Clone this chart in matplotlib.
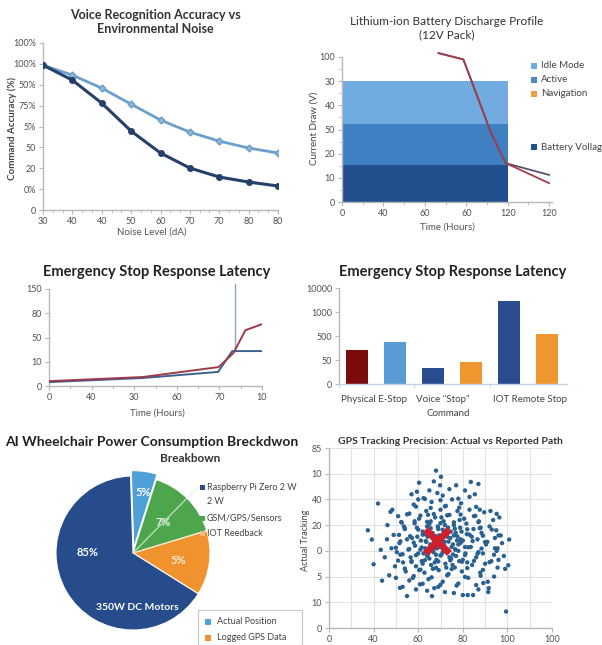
import matplotlib
matplotlib.use("Agg")
import matplotlib.pyplot as plt
from matplotlib.patches import Rectangle
from matplotlib.lines import Line2D

plt.rcParams['font.family'] = ['Lato', 'DejaVu Sans']

W, H = 602, 645

# ---------------- data ----------------
# Panel 1: voice recognition
noise_labels = ["30", "40", "40", "50", "60", "70", "70", "80", "80"]
acc_labels = ["0", "0%", "20", "50", "5%", "75%", "50%", "100%", "100%"]
acc_dark = [6.94, 6.22, 5.12, 3.78, 2.73, 2.01, 1.58, 1.34, 1.15]
acc_light = [6.94, 6.46, 5.84, 5.07, 4.31, 3.73, 3.30, 2.97, 2.73]

# Panel 2: battery discharge
batt_xlabels = ["0", "40", "60", "60", "120", "120"]
batt_ylabels = ["0", "10", "20", "50", "40", "30", "100"]
band_bottoms = [0.0, 1.53, 3.22]
band_tops = [1.53, 3.22, 5.0]
band_span = 4.0
discharge_x = [2.33, 2.93, 3.12, 3.60, 3.95, 5.0]
discharge_red = [6.16, 5.90, 5.04, 2.85, 1.61, 0.78]
discharge_dark = [6.16, 5.90, 5.04, 2.85, 1.61, 1.12]
batt_legend = ["Idle Mode", "Active", "Navigation", "Battery Vollag"]

# Panel 3: latency lines
lat_xlabels = ["0", "40", "30", "60", "70", "10"]
lat_ylabels = ["0", "10", "50", "80", "150"]
lat_x_red = [0, 2.2, 3.98, 4.33, 4.61, 5.0]
lat_red = [0.20, 0.37, 0.78, 1.36, 2.30, 2.55]
lat_x_blue = [0, 2.2, 3.97, 4.30, 5.0]
lat_blue = [0.16, 0.33, 0.58, 1.44, 1.44]
spike_x = [4.37, 4.37]
spike_y = [1.44, 4.2]

# Panel 4: latency bars
bar_ylabels = ["0", "50", "500", "1000", "10000"]
bar_vals = [1.42, 1.75, 0.67, 0.92, 3.46, 2.08]
bar_colors = ["#7a0c0c", "#5b9bd5", "#2a4d8f", "#f0962f", "#2a4d8f", "#f0962f"]
bar_cats = ["Physical E-Stop", "Voice \"Stop\"", "IOT Remote Stop"]

# Panel 5: pie
pie_vals = [13.6, 15.4, 5.4, 65.6]
pie_labels = ["5%", "7%", "5%", "85%"]
pie_colors = ["#f0932f", "#4ea64c", "#4f9fd8", "#264c8b"]
pie_legend = ["Raspberry Pi Zero 2 W", "2 W", "GSM/GPS/Sensors", "IOT Reedback"]
pie_box_legend = ["Actual Position", "Logged GPS Data"]

# Panel 6: GPS scatter
gps_xlabels = ["0", "40", "60", "80", "100", "100"]
gps_ylabels = ["0", "10", "5", "0", "20", "40", "10", "85"]
gps_x = [0.87, 0.96, 1.10, 1.00, 1.19, 1.16, 1.59, 1.75, 2.31, 2.40, 2.51, 2.02, 2.49, 3.18, 3.35,
         4.04, 4.02, 3.97, 3.57, 3.00, 3.11, 3.23, 2.80, 3.76, 3.82, 3.76, 3.72, 3.38, 1.38, 1.31, 1.97,
         1.45, 1.52, 1.58, 1.63, 1.66, 1.70, 1.72, 1.78, 1.80, 1.83, 1.86, 1.88, 1.90, 1.93, 1.95, 1.97,
         2.00, 2.02, 2.04, 2.06, 2.08, 2.10, 2.12, 2.14, 2.16, 2.18, 2.20, 2.21, 2.23, 2.25, 2.27, 2.29,
         2.30, 2.32, 2.34, 2.36, 2.38, 2.39, 2.41, 2.43, 2.44, 2.46, 2.48, 2.50, 2.52, 2.53, 2.55, 2.57,
         2.59, 2.61, 2.62, 2.64, 2.66, 2.68, 2.70, 2.72, 2.74, 2.76, 2.78, 2.80, 2.82, 2.84, 2.86, 2.88,
         2.90, 2.92, 2.94, 2.96, 2.98, 3.00, 3.03, 3.06, 3.09, 3.12, 3.15, 3.18, 3.21, 3.24, 3.27, 3.30,
         3.33, 3.36, 3.39, 3.42, 3.45, 3.48, 3.52, 3.56, 3.60, 3.64, 3.68, 3.72, 3.78, 3.85, 3.92,
         2.05, 2.15, 2.25, 2.35, 2.45, 2.55, 2.65, 2.75, 2.85, 2.95, 2.10, 2.20, 2.30, 2.40, 2.50, 2.60,
         2.70, 2.80, 2.90, 3.00, 1.98, 2.18, 2.28, 2.37, 2.47, 2.58, 2.67, 2.77, 2.87, 2.97, 2.12, 2.22,
         2.33, 2.42, 2.52, 2.63, 2.73, 2.83, 2.93, 3.05, 1.75, 1.85, 1.92, 2.02, 3.10, 3.20, 3.25, 3.35,
         3.40, 3.50, 1.60, 1.68, 1.55, 1.48, 1.40, 1.35, 1.30, 1.25, 1.42, 1.50, 3.55, 3.62, 3.70, 3.75,
         3.80, 3.88, 3.95, 3.58, 3.46, 3.35, 2.60, 2.45, 2.20, 1.95, 1.80, 1.65, 2.70, 2.55, 2.25, 2.00,
         1.85, 3.05, 3.15, 2.85, 2.35,
         1.90, 2.30, 2.65, 3.05, 3.40,
         1.70, 2.05, 2.40, 2.75, 3.10, 3.45,
         1.55, 1.85, 2.15, 2.45, 2.72, 2.98, 3.25, 3.60,
         1.65, 1.95, 2.22, 2.50, 2.78, 3.05, 3.33, 3.70,
         1.50, 1.80, 2.08, 2.35, 2.58, 2.83, 3.12, 3.42, 3.78,
         1.60, 1.90, 2.17, 2.45, 2.68, 2.95, 3.22, 3.50,
         1.57, 1.82, 2.10, 2.38, 2.62, 2.88, 3.15, 3.45, 3.80,
         1.70, 2.00, 2.28, 2.55, 2.82, 3.10, 3.38, 3.65,
         1.62, 1.92, 2.20, 2.50, 2.80, 3.08, 3.35,
         1.75, 2.05, 2.35, 2.65, 2.95, 3.28,
         1.95, 2.28, 2.60, 2.92, 3.30,
         2.10, 2.50, 2.90, 3.30,
         2.15, 2.50, 2.90]
gps_y = [3.80, 3.44, 4.84, 2.48, 1.84, 3.04, 1.56, 1.24, 1.24, 6.12, 5.88, 5.65, 5.55, 5.68, 5.60,
         3.44, 2.44, 0.64, 1.40, 1.28, 1.28, 1.28, 1.36, 4.44, 4.30, 3.00, 3.50, 4.60, 4.52, 4.00, 5.30,
         3.62, 2.95, 3.30, 4.10, 2.55, 3.85, 2.20, 3.05, 4.45, 2.75, 3.50, 1.95, 4.80, 3.20, 2.40, 3.90,
         2.90, 4.25, 1.70, 3.40, 2.60, 3.75, 5.05, 2.15, 3.10, 4.55, 2.80, 3.55, 1.90, 4.05, 3.25, 2.45,
         4.90, 3.70, 2.95, 1.55, 4.30, 3.45, 2.65, 5.25, 3.95, 2.25, 3.15, 4.60, 2.85, 3.60, 1.80, 4.15,
         3.35, 2.50, 4.75, 3.80, 3.05, 2.10, 4.40, 3.50, 2.70, 5.00, 3.25, 4.00, 2.35, 3.70, 1.65, 4.55,
         3.00, 2.60, 3.90, 4.85, 2.20, 3.40, 4.25, 2.90, 3.65, 1.95, 4.60, 3.15, 2.45, 3.85, 5.20, 2.75,
         3.45, 4.15, 2.15, 3.70, 2.90, 4.50, 3.25, 1.80, 3.95, 2.60, 4.20, 3.10, 2.35, 3.60, 2.80,
         3.05, 3.65, 2.70, 3.30, 3.85, 2.95, 3.55, 3.15, 2.80, 3.45, 2.50, 3.95, 3.15, 2.85, 3.40, 4.00,
         2.75, 3.60, 3.25, 2.65, 3.55, 3.35, 4.15, 2.55, 3.60, 3.20, 3.90, 2.45, 3.40, 3.75, 2.90, 4.40,
         2.30, 3.10, 4.30, 2.35, 3.75, 3.05, 4.20, 3.15, 3.45, 2.60, 4.15, 2.25, 2.55, 3.55, 4.35, 2.95,
         3.90, 2.50, 2.85, 3.95, 4.35, 2.40, 3.10, 2.05, 3.45, 2.75, 4.60, 1.95, 3.35, 4.55, 2.00, 3.80,
         2.65, 3.30, 2.30, 1.55, 1.75, 1.50, 1.40, 1.60, 1.45, 1.50, 1.85, 1.60, 5.40, 5.15, 5.35, 5.00,
         5.20, 5.35, 5.10, 5.55, 5.70,
         2.02, 1.97, 2.05, 1.99, 2.03,
         2.31, 2.27, 2.34, 2.29, 2.33, 2.26,
         2.62, 2.57, 2.64, 2.59, 2.63, 2.58, 2.61, 2.56,
         2.87, 2.83, 2.88, 2.82, 2.86, 2.84, 2.89, 2.85,
         3.12, 3.07, 3.13, 3.08, 3.11, 3.06, 3.14, 3.09, 3.10,
         3.37, 3.32, 3.38, 3.33, 3.36, 3.31, 3.38, 3.34,
         3.62, 3.57, 3.63, 3.58, 3.61, 3.56, 3.63, 3.59, 3.60,
         3.87, 3.83, 3.88, 3.82, 3.86, 3.84, 3.88, 3.83,
         4.12, 4.07, 4.13, 4.08, 4.11, 4.06, 4.12,
         4.42, 4.37, 4.43, 4.38, 4.41, 4.36,
         4.72, 4.67, 4.73, 4.68, 4.71,
         1.72, 1.68, 1.73, 1.67,
         5.02, 4.97, 5.03]
gps_center = (2.42, 3.40)

# ---------------- helpers ----------------
fig = plt.figure(figsize=(W / 100, H / 100), dpi=100)
fig.patch.set_facecolor("white")


def add_ax(left, top, width, height):
    return fig.add_axes([left / W, 1 - (top + height) / H, width / W, height / H])


def fx(x):
    return x / W


def fy(y):
    return 1 - y / H


TICK_C = "#505050"
SPINE_C = "#b8b8b8"


def style(ax):
    for s in ["top", "right"]:
        ax.spines[s].set_visible(False)
    for s in ["left", "bottom"]:
        ax.spines[s].set_color(SPINE_C)
        ax.spines[s].set_linewidth(1.0)
    ax.tick_params(axis="both", colors=SPINE_C, labelcolor=TICK_C, labelsize=6.5,
                   length=3, width=0.8, pad=2)
    ax.set_facecolor("white")


# ---------------- Panel 1 ----------------
ax1 = add_ax(43, 43, 235, 167)
style(ax1)
xs1 = list(range(len(noise_labels)))
ax1.plot(xs1, acc_light, color="#6c9fc9", lw=2.0, marker="D", ms=3.5, mfc="#8fb6d8", mec="#6c9fc9", zorder=3)
ax1.plot(xs1, acc_dark, color="#25406b", lw=2.2, marker="o", ms=4, mfc="#25406b", mec="#25406b", zorder=4)
ax1.set_xlim(0, 8)
ax1.set_ylim(0, 8)
ax1.set_xticks(xs1)
ax1.set_xticklabels(noise_labels)
ax1.set_yticks(range(len(acc_labels)))
ax1.set_yticklabels(acc_labels)
ax1.set_xticks([i + 0.333 for i in range(8)] + [i + 0.667 for i in range(8)], minor=True)
ax1.tick_params(axis="x", which="minor", length=2, color=SPINE_C)
fig.text(fx(155), fy(22), "Voice Recognition Accuracy vs\nEnvironmental Noise", ha="center", va="center",
         fontsize=9, fontweight="bold", color="#333333", linespacing=1.15)
fig.text(fx(12), fy(128), "Command Accuracy (%)", rotation=90, ha="center", va="center",
         fontsize=7, fontweight="bold", color="#444444")
fig.text(fx(152), fy(232), "Noise Level (dA)", ha="center", va="center", fontsize=7, color="#555555")

# ---------------- Panel 2 ----------------
ax2 = add_ax(342, 57, 210, 145)
style(ax2)
band_colors = ["#224f8e", "#3f80c2", "#72abdf"]
for b, t, c in zip(band_bottoms, band_tops, band_colors):
    ax2.bar(0, t - b, bottom=b, width=band_span, align="edge", color=c, edgecolor="none", zorder=1)
ax2.plot(discharge_x, discharge_dark, color="#5b4f6b", lw=1.3, zorder=3, clip_on=False)
ax2.plot(discharge_x, discharge_red, color="#a0404c", lw=1.3, zorder=4, clip_on=False)
ax2.set_xlim(0, 5.07)
ax2.set_ylim(0, 6)
ax2.set_xticks(range(6))
ax2.set_xticklabels(batt_xlabels)
ax2.set_yticks(range(7))
ax2.set_yticklabels(batt_ylabels)
ax2.set_xticks([i + 0.5 for i in range(5)], minor=True)
ax2.set_yticks([i + 0.5 for i in range(6)], minor=True)
ax2.tick_params(which="minor", length=2, color=SPINE_C)
fig.text(fx(447), fy(28), "Lithium-ion Battery Discharge Profile\n(12V Pack)", ha="center", va="center",
         fontsize=8.5, color="#333333", linespacing=1.25)
fig.text(fx(314), fy(128), "Current Draw (V)", rotation=90, ha="center", va="center",
         fontsize=7, color="#444444")
fig.text(fx(447), fy(227), "Time (Hours)", ha="center", va="center", fontsize=7, color="#555555")
leg_cols = ["#72abdf", "#4a88c8", "#f09a4a", "#224f8e"]
leg_ys = [66, 80, 94, 147]
for lab, c, yy in zip(batt_legend, leg_cols, leg_ys):
    fig.patches.append(Rectangle((fx(531), fy(yy + 3)), 6 / W, 6 / H, transform=fig.transFigure,
                                 facecolor=c, edgecolor="none"))
    fig.text(fx(541), fy(yy), lab, ha="left", va="center", fontsize=7, color="#444444")

# ---------------- Panel 3 ----------------
ax3 = add_ax(49, 289, 213, 97)
style(ax3)
ax3.plot(lat_x_blue, lat_blue, color="#3d6190", lw=1.4, zorder=3)
ax3.plot(spike_x, spike_y, color="#8da6c6", lw=1.0, zorder=2, clip_on=False)
ax3.plot(lat_x_red, lat_red, color="#9e3a4a", lw=1.4, zorder=4)
ax3.set_xlim(0, 5)
ax3.set_ylim(0, 4)
ax3.set_xticks(range(6))
ax3.set_xticklabels(lat_xlabels)
ax3.set_yticks(range(5))
ax3.set_yticklabels(lat_ylabels)
ax3.set_xticks([i + 0.5 for i in range(5)], minor=True)
ax3.tick_params(which="minor", length=2, color=SPINE_C)
fig.text(fx(157), fy(272), "Emergency Stop Response Latency", ha="center", va="center",
         fontsize=10.5, fontweight="bold", color="#222222")
fig.text(fx(157), fy(413), "Time (Hours)", ha="center", va="center", fontsize=7, color="#555555")

# ---------------- Panel 4 ----------------
ax4 = add_ax(339, 288, 228, 96)
style(ax4)
ax4.spines["bottom"].set_color("#c5d3e8")
ax4.bar(range(len(bar_vals)), bar_vals, width=0.58, color=bar_colors, edgecolor="none", zorder=2)
ax4.set_xlim(-0.47, 5.53)
ax4.set_ylim(0, 4)
ax4.set_yticks(range(5))
ax4.set_yticklabels(bar_ylabels)
ax4.set_xticks([-0.47, 1.5, 3.5])
ax4.set_xticklabels([])
ax4.tick_params(axis="x", length=2, color="#c5d3e8")
fig.text(fx(453), fy(272), "Emergency Stop Response Latency", ha="center", va="center",
         fontsize=10.5, fontweight="bold", color="#222222")
for lab, xx in zip(bar_cats, [374, 443, 530]):
    fig.text(fx(xx), fy(400), lab, ha="center", va="center", fontsize=7, color="#444444")
fig.text(fx(448), fy(413), "Command", ha="center", va="center", fontsize=7, color="#444444")

# ---------------- Panel 5 ----------------
ax5 = add_ax(56, 476, 154, 154)
wedges, _ = ax5.pie(pie_vals, colors=pie_colors, startangle=-32, counterclock=True,
                    explode=[0, 0, 0.07, 0], radius=1.0,
                    wedgeprops=dict(edgecolor="white", linewidth=0.8))
ax5.set_xlim(-1.0, 1.0)
ax5.set_ylim(-1.0, 1.0)
ax5.set_aspect("equal")
ax5.axis("off")
fig.lines.append(Line2D([fx(133), fx(198)], [fy(553), fy(487)], transform=fig.transFigure,
                        color="#e8eef5", lw=0.8, alpha=0.85))
fig.lines.append(Line2D([fx(133), fx(200)], [fy(553), fy(533)], transform=fig.transFigure,
                        color="#f3d9b8", lw=0.8, alpha=0.9))
pie_text_pos = [(178, 560), (163, 523), (143, 493), (88, 552)]
pie_text_col = ["#fbe9d6", "#e9f3e6", "white", "white"]
for lab, (px, py), c in zip(pie_labels, pie_text_pos, pie_text_col):
    fig.text(fx(px), fy(py), lab, ha="center", va="center", fontsize=8, color=c, fontweight="bold")
fig.text(fx(137), fy(607), "350W DC Motors", ha="center", va="center", fontsize=7.5, color="white",
         fontweight="bold")
fig.text(fx(152), fy(442), "AI Wheelchair Power Consumption Breckdwon", ha="center", va="center",
         fontsize=10, fontweight="bold", color="#222222")
fig.text(fx(190), fy(458), "Breakbown", ha="center", va="center", fontsize=8.5, fontweight="bold",
         color="#333333")
pl_cols = ["#264c8b", None, "#4ea64c", "#f5b879"]
pl_ys = [487, 502, 518, 533]
for lab, c, yy in zip(pie_legend, pl_cols, pl_ys):
    if c is not None:
        fig.patches.append(Rectangle((fx(200), fy(yy + 2.5)), 5 / W, 5 / H, transform=fig.transFigure,
                                     facecolor=c, edgecolor="none"))
    fig.text(fx(207), fy(yy), lab, ha="left", va="center", fontsize=6.5, color="#444444")
fig.patches.append(Rectangle((fx(198), fy(645)), 104 / W, 35 / H, transform=fig.transFigure,
                             facecolor="white", edgecolor="#c8c8c8", lw=0.8))
for lab, c, yy in zip(pie_box_legend, ["#4f9fd8", "#f0932f"], [622, 638]):
    fig.patches.append(Rectangle((fx(205), fy(yy + 3)), 6 / W, 6 / H, transform=fig.transFigure,
                                 facecolor=c, edgecolor="none"))
    fig.text(fx(217), fy(yy), lab, ha="left", va="center", fontsize=6.5, color="#444444")

# ---------------- Panel 6 ----------------
ax6 = add_ax(329, 448, 223, 180)
style(ax6)
ax6.set_xlim(0, 5)
ax6.set_ylim(0, 7)
ax6.set_xticks(range(6))
ax6.set_xticklabels(gps_xlabels)
ax6.set_yticks(range(8))
ax6.set_yticklabels(gps_ylabels)
ax6.set_xticks([i + 0.5 for i in range(5)], minor=True)
ax6.grid(True, which="major", color="#e2e2e2", lw=0.8)
ax6.grid(True, which="minor", axis="x", color="#e2e2e2", lw=0.8)
ax6.tick_params(which="minor", length=0)
ax6.set_axisbelow(True)
ax6.scatter(gps_x, gps_y, s=10, color="#2b6190", edgecolors="none", zorder=3)
ax6.plot([gps_center[0]], [gps_center[1]], marker="x", ms=17, mew=5, color="#d0202e", zorder=5)
fig.text(fx(450), fy(442), "GPS Tracking Precision: Actual vs Reported Path", ha="center", va="center",
         fontsize=7.5, fontweight="bold", color="#333333")
fig.text(fx(306), fy(540), "Actual Tracking", rotation=90, ha="center", va="center",
         fontsize=6.5, color="#444444")

fig.savefig("out.png", dpi=100, facecolor="white")
